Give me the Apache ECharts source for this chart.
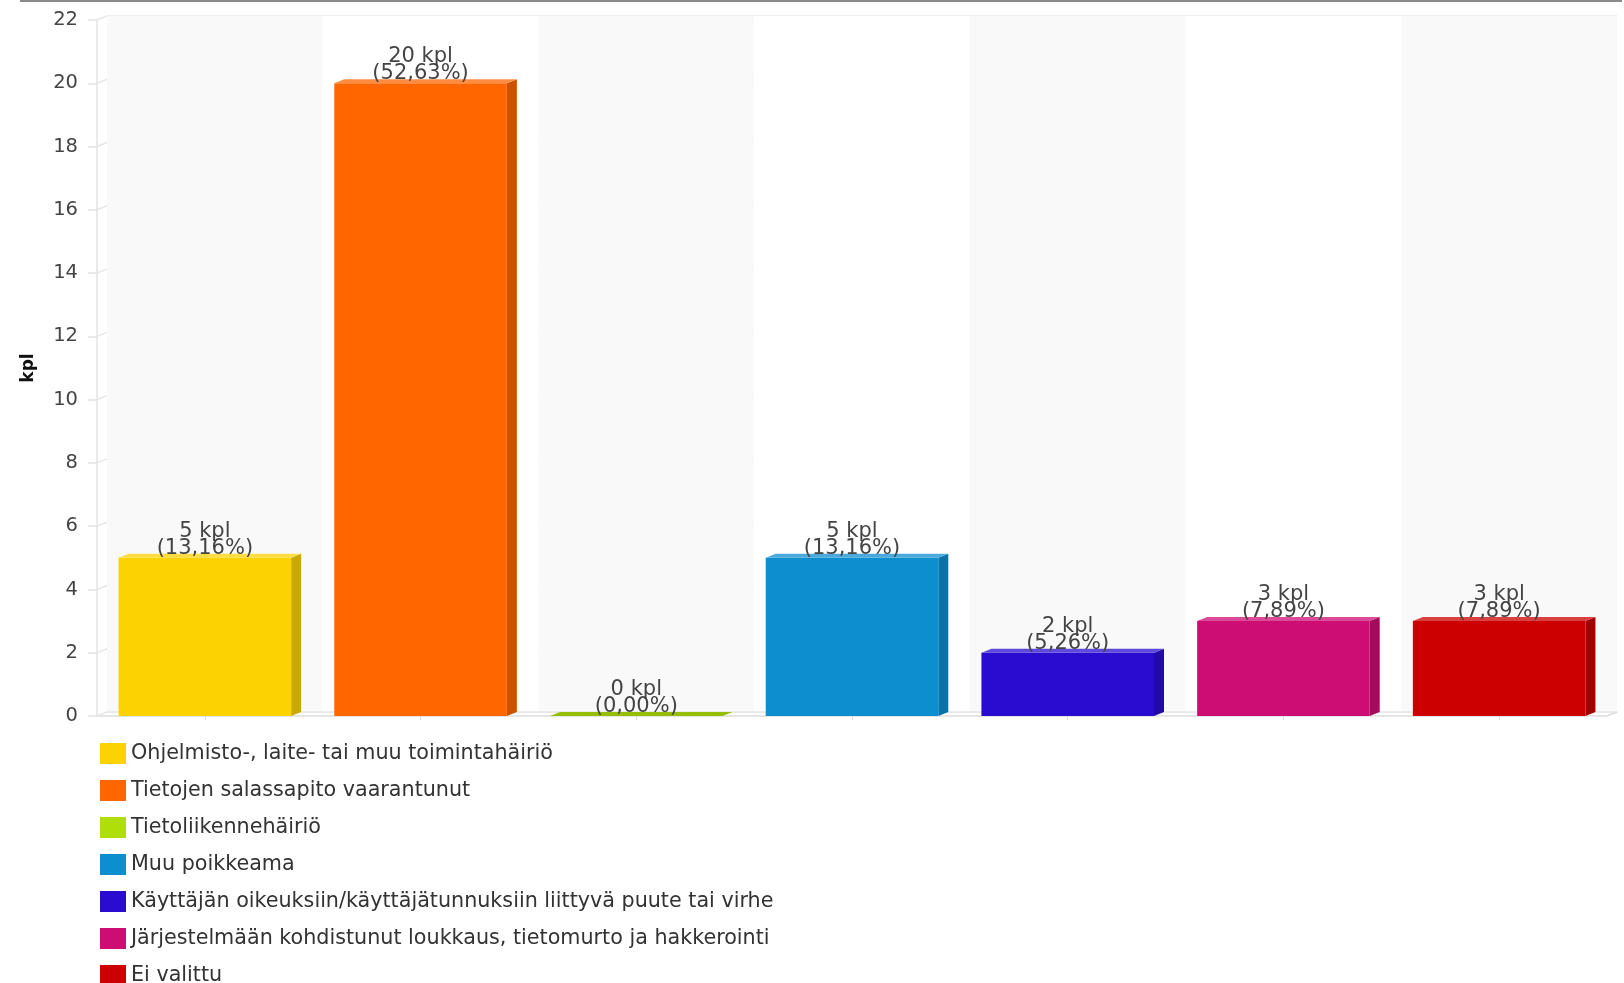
<!DOCTYPE html>
<html>
<head>
<meta charset="utf-8">
<script src="https://cdn.jsdelivr.net/npm/echarts@6/dist/echarts.min.js"></script>
<style>
html,body{margin:0;padding:0;background:#fff;}
#chart{width:1624px;height:983px;}
</style>
</head>
<body>
<div id="chart"></div>
<script>
const categories = [
  'Ohjelmisto-, laite- tai muu toimintahäiriö',
  'Tietojen salassapito vaarantunut',
  'Tietoliikennehäiriö',
  'Muu poikkeama',
  'Käyttäjän oikeuksiin/käyttäjätunnuksiin liittyvä puute tai virhe',
  'Järjestelmään kohdistunut loukkaus, tietomurto ja hakkerointi',
  'Ei valittu'
];
const values = [5, 20, 0, 5, 2, 3, 3];
const colors = ['#FCD202', '#FF6600', '#B0DE09', '#0D8ECF', '#2A0CD0', '#CD0D74', '#CC0000'];
const yTicks = [0, 2, 4, 6, 8, 10, 12, 14, 16, 18, 20, 22];
const yName = 'kpl';

const total = values.reduce((a, b) => a + b, 0);
const DX = 10, DY = -4;

function shade(hex, f) {
  const n = parseInt(hex.slice(1), 16);
  let r = (n >> 16) & 255, g = (n >> 8) & 255, b = n & 255;
  if (f < 1) { r = r * f; g = g * f; b = b * f; }
  else { const t = f - 1; r = r + (255 - r) * t; g = g + (255 - g) * t; b = b + (255 - b) * t; }
  return 'rgb(' + Math.round(r) + ',' + Math.round(g) + ',' + Math.round(b) + ')';
}

const chart = echarts.init(document.getElementById('chart'));

const barSeries = categories.map((name, i) => ({
  name: name,
  type: 'custom',
  xAxisIndex: 0,
  yAxisIndex: 0,
  z: 10,
  itemStyle: { color: colors[i] },
  data: [[i, values[i]]],
  renderItem: function (params, api) {
    const ci = api.value(0), v = api.value(1);
    const base = api.coord([ci, 0]);
    const top = api.coord([ci, v]);
    const bw = api.size([1, 0])[0] * 0.8;
    const l = base[0] - bw / 2, r = base[0] + bw / 2;
    const t = top[1], b = base[1];
    const c = colors[i];
    const pct = (v / total * 100).toFixed(2).replace('.', ',');
    return {
      type: 'group',
      children: [
        { type: 'polygon', shape: { points: [[r, t], [r + DX, t + DY], [r + DX, b + DY], [r, b]] }, style: { fill: shade(c, 0.8) } },
        { type: 'rect', shape: { x: l, y: t, width: bw, height: b - t }, style: { fill: c } },
        { type: 'polygon', shape: { points: [[l, t], [l + DX, t + DY], [r + DX, t + DY], [r, t]] }, style: { fill: shade(c, v === 0 ? 0.85 : 1.25) } },
        { type: 'text', style: { text: v + ' kpl\n(' + pct + '%)', x: base[0], y: t - 1, align: 'center', verticalAlign: 'bottom', fontSize: 21, lineHeight: 17, fontFamily: 'DejaVu Sans', fill: '#444' }, z2: 20 }
      ]
    };
  }
}));

const connectorSeries = {
  type: 'custom',
  xAxisIndex: 0,
  yAxisIndex: 0,
  silent: true,
  z: 2,
  data: yTicks.map(v => [0, v]),
  renderItem: function (params, api) {
    const p = api.coord([0, api.value(1)]);
    const left = p[0] - api.size([1, 0])[0] / 2;
    return { type: 'line', shape: { x1: left, y1: p[1], x2: left + DX, y2: p[1] + DY }, style: { stroke: '#e6e6e6', lineWidth: 1.5 } };
  }
};

const rightConnector = {
  type: 'custom',
  xAxisIndex: 0,
  yAxisIndex: 0,
  silent: true,
  z: 2,
  data: [[categories.length - 1, 0]],
  renderItem: function (params, api) {
    const p = api.coord([api.value(0), api.value(1)]);
    const right = p[0] + api.size([1, 0])[0] / 2;
    return { type: 'line', shape: { x1: right, y1: p[1], x2: right + DX, y2: p[1] + DY }, style: { stroke: '#dddddd', lineWidth: 1.5 } };
  }
};

chart.setOption({
  animation: false,
  backgroundColor: '#ffffff',
  textStyle: { fontFamily: 'DejaVu Sans' },
  graphic: [
    { type: 'rect', left: 20, top: 0, shape: { width: 1602, height: 2 }, style: { fill: '#8a8a8a' } }
  ],
  grid: [
    { left: 97, right: 17, top: 20, bottom: 267 },
    { left: 107, right: 7, top: 16, bottom: 271 }
  ],
  xAxis: [
    {
      type: 'category', gridIndex: 0, data: categories,
      axisLine: { show: true, lineStyle: { color: '#dddddd', width: 1.5 } },
      axisTick: { show: true, alignWithLabel: true, interval: 0, length: 4, lineStyle: { color: '#dddddd' } },
      axisLabel: { show: false, interval: 0 },
      splitLine: { show: false }
    },
    {
      type: 'category', gridIndex: 1, data: categories,
      axisLine: { show: true, lineStyle: { color: '#e6e6e6', width: 1.5 } },
      axisTick: { show: false, interval: 0 },
      axisLabel: { show: false, interval: 0 },
      splitArea: { show: true, interval: 0, areaStyle: { color: ['#f9f9f9', '#ffffff'] } }
    }
  ],
  yAxis: [
    {
      type: 'value', gridIndex: 0, min: 0, max: 22, interval: 2,
      name: yName, nameLocation: 'middle', nameGap: 60,
      nameTextStyle: { fontSize: 17, fontWeight: 'bold', color: '#111', fontFamily: 'DejaVu Sans' },
      axisLine: { show: true, lineStyle: { color: '#e3e3e3', width: 1.5 } },
      axisTick: { show: true, length: 9, lineStyle: { color: '#e3e3e3', width: 1.5 } },
      axisLabel: { fontSize: 19.5, color: '#444', margin: 19, fontFamily: 'DejaVu Sans' },
      splitLine: { show: false }
    },
    {
      type: 'value', gridIndex: 1, min: 0, max: 22, interval: 2,
      axisLine: { show: false }, axisTick: { show: false }, axisLabel: { show: false },
      splitLine: { show: true, lineStyle: { color: '#e8e8e8', width: 1.5 } }
    }
  ],
  legend: {
    orient: 'vertical',
    left: 95,
    top: 738,
    height: 400,
    icon: 'rect',
    itemWidth: 26,
    itemHeight: 21,
    itemGap: 16,
    selectedMode: false,
    textStyle: { fontSize: 20.7, color: '#333', lineHeight: 21, fontFamily: 'DejaVu Sans' },
    data: categories
  },
  series: [connectorSeries, rightConnector].concat(barSeries)
});
</script>
</body>
</html>
